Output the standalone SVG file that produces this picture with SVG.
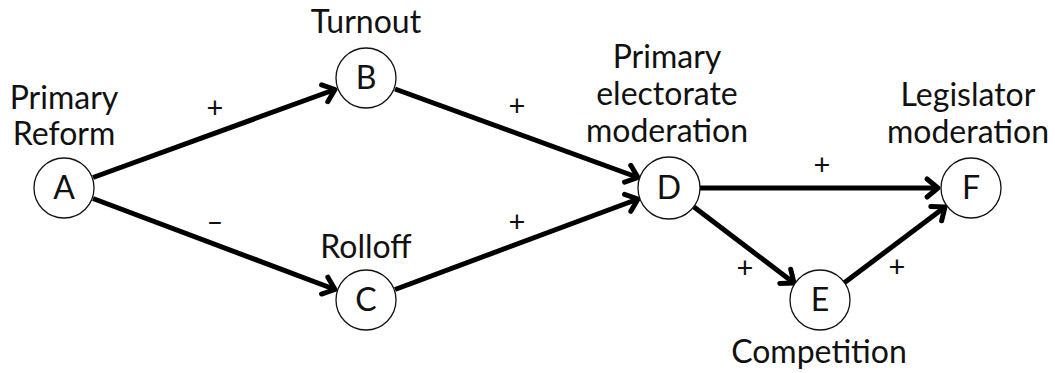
<svg xmlns="http://www.w3.org/2000/svg" width="1055" height="373" viewBox="0 0 1055 373">
<style>
text{font-family:Lato,"Liberation Sans",sans-serif;font-size:32px;fill:#111;text-anchor:middle}
text.s{font-size:29px}
.node circle{fill:#fff;stroke:#111;stroke-width:1.3}
.edge{stroke:#000;stroke-width:5;fill:none;marker-end:url(#arr)}
</style>
<defs>
<marker id="arr" markerUnits="userSpaceOnUse" orient="auto" refX="0" refY="0" overflow="visible">
<path d="M-11,-9 L0,0 L-11,9" fill="none" stroke="#000" stroke-width="5" stroke-linecap="round" stroke-linejoin="round"/>
</marker>
</defs>
<rect width="1055" height="373" fill="#fff"/>
<g id="connectors">
<line class="edge" x1="93" y1="177.5" x2="335" y2="89.5"/>
<line class="edge" x1="93" y1="198.5" x2="335" y2="289.5"/>
<line class="edge" x1="395" y1="89" x2="638" y2="177.5"/>
<line class="edge" x1="395" y1="289.5" x2="638" y2="199"/>
<line class="edge" x1="700" y1="188" x2="938" y2="188"/>
<line class="edge" x1="694" y1="207" x2="794" y2="283"/>
<line class="edge" x1="844" y1="283" x2="945" y2="207"/>
<text class="s" x="215" y="118">+</text>
<text class="s" x="215" y="232">–</text>
<text class="s" x="517" y="116">+</text>
<text class="s" x="517" y="232">+</text>
<text class="s" x="822" y="175">+</text>
<text class="s" x="745" y="278">+</text>
<text class="s" x="897" y="277">+</text>
</g>
<g id="A" class="node"><circle cx="64" cy="188" r="30"/><text x="64" y="199">A</text><text x="64" y="109">Primary</text><text x="64" y="145">Reform</text></g>
<g id="B" class="node"><circle cx="366" cy="78" r="30"/><text x="366" y="89">B</text><text x="366" y="33">Turnout</text></g>
<g id="C" class="node"><circle cx="366" cy="300" r="30"/><text x="366" y="311">C</text><text x="366" y="258">Rolloff</text></g>
<g id="D" class="node"><circle cx="669" cy="188" r="31"/><text x="669" y="199">D</text><text x="667" y="68">Primary</text><text x="667" y="105">electorate</text><text x="667" y="142">moderation</text></g>
<g id="E" class="node"><circle cx="820" cy="300" r="30"/><text x="820" y="311">E</text><text x="819" y="363">Competition</text></g>
<g id="F" class="node"><circle cx="971" cy="188" r="30"/><text x="971" y="199">F</text><text x="968" y="106">Legislator</text><text x="968" y="143">moderation</text></g>
</svg>
